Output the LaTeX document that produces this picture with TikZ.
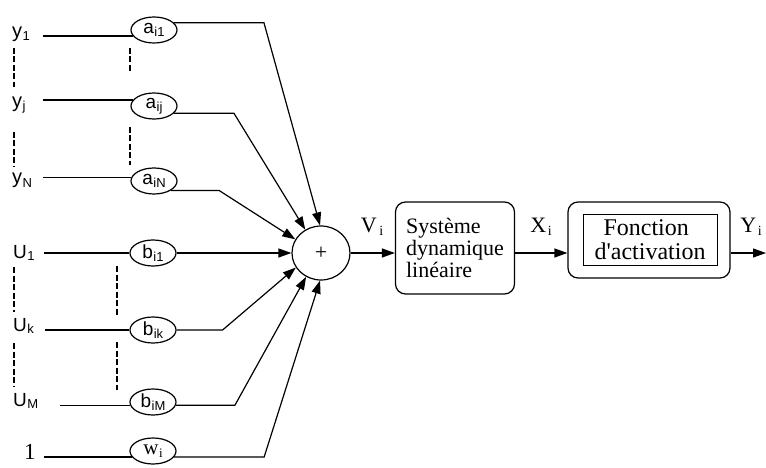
\documentclass[tikz,border=0pt]{standalone}
\usepackage{fontspec}
\setmainfont{Liberation Serif}
\newfontfamily\labsans{Liberation Sans}
\usetikzlibrary{arrows.meta,shapes.geometric}
% lowered index set in a smaller size
\newcommand\lo[2][13]{\kern0.5pt\raisebox{-0.15em}{\fontsize{#1}{#1}\selectfont #2}}

\begin{document}
\begin{tikzpicture}[x=1pt,y=-1pt,
  wire/.style={line width=1.2pt},
  arr/.style={wire,-{Triangle[length=13pt,width=9pt]}},
  guide/.style={line width=1.1pt,dash pattern=on 6pt off 2.5pt},
  weight/.style={ellipse,draw,line width=1.2pt,minimum width=46pt,minimum height=26pt,
    inner sep=0pt,font=\labsans\fontsize{19}{19}\selectfont},
  insig/.style={anchor=base west,inner sep=0pt,align=left,
    font=\labsans\fontsize{20}{20}\selectfont},
  usig/.style={insig,font=\labsans\fontsize{19}{19}\selectfont},
  sig/.style={inner sep=0pt,font=\fontsize{22}{22}\selectfont},
  block/.style={draw,line width=1.2pt,rounded corners=10pt},
]
\useasboundingbox (0,0) rectangle (766,468);

% input signals
\node[insig,text width=31pt] (y1) at (12,38) {y\lo{1}};
\node[insig,text width=31pt] (yj) at (12,108) {y\lo{j}};
\node[insig,text width=31pt] (yN) at (12,184) {y\lo{N}};
\node[usig,text width=31pt] (U1) at (13,258) {U\lo{1}};
\node[usig,text width=32pt] (Uk) at (13,331) {U\lo{k}};
\node[usig,text width=47pt] (UM) at (13,406) {U\lo{M}};
\node[insig,text width=20pt,font=\fontsize{23}{23}\selectfont] (one) at (24,459) {1};

% weights
\node[weight] (a1) at (154,30) {a\lo{i1}};
\node[weight] (aj) at (154,106) {a\lo{ij}};
\node[weight] (aN) at (154,181) {a\lo{iN}};
\node[weight] (b1) at (153,253) {b\lo{i1}};
\node[weight] (bk) at (153,330) {b\lo{ik}};
\node[weight] (bM) at (153,402) {b\lo{iM}};
\node[weight,font=\fontsize{21}{21}\selectfont] (w) at (153,451) {w\lo{i}};

% summing junction
\node[ellipse,draw,line width=1.2pt,minimum width=58pt,minimum height=54pt,inner sep=0pt,
  font=\fontsize{22}{22}\selectfont] (sum) at (321,253) {+};

% processing blocks
\node[block,minimum width=119pt,minimum height=92pt,align=left,inner sep=0pt,
  font=\fontsize{22}{21.7}\selectfont] (sys) at (455,248)
  {Système\\dynamique\\linéaire};
\node[block,minimum width=162pt,minimum height=76pt] (act) at (649,240) {};
\node[draw,line width=1pt,minimum width=134pt,minimum height=51pt,align=left,inner sep=0pt,
  font=\fontsize{24}{24}\selectfont] (actin) at (650,239.5)
  {\hspace*{9pt}Fonction\\d\textquotesingle activation};
\coordinate (out) at (766,253);

% signal names
\node[sig] (V) at (372,227) {V\kern2pt\lo[14]{i}};
\node[sig] (X) at (541,227) {X\kern1pt\lo[14]{i}};
\node[sig] (Y) at (751,227) {Y\kern1pt\lo[14]{i}};

% inputs into the weights
\draw[wire] (y1.east |- a1.196) -- (a1.196);
\draw[wire] (yj.east |- aj.164) -- (aj.164);
\draw[wire] (yN.east |- aN.172) -- (aN.172);
\draw[wire] (U1.east |- b1.west) -- (b1.west);
\draw[wire] (Uk.east |- bk.west) -- (bk.west);
\draw[wire] (UM.east |- bM.188) -- (bM.188);
\draw[wire] (one.east |- w.196) -- (w.196);

% weighted signals into the junction
\draw[arr] (a1.20) -- ++(90,0) -- (sum.92);
\draw[arr] (aj.340) -- ++(60,0) -- (sum.124);
\draw[arr] (aN.331) -- ++(48,0) -- (sum.152);
\draw[arr] (b1.east) -- (sum.180);
\draw[arr] (bk.east) -- ++(46,0) -- (sum.210);
\draw[arr] (bM.352) -- ++(59,0) -- (sum.238);
\draw[arr] (w.344) -- ++(90,0) -- (sum.268);

% forward chain
\draw[arr] (sum.east) -- (sum.east -| sys.west);
\draw[arr] (sum.east -| sys.east) -- (sum.east -| act.west);
\draw[arr] (sum.east -| act.east) -- (out);

% elided inputs
\draw[guide] (14,48) -- (14,87);
\draw[guide] (14,132) -- (14,167);
\draw[guide] (130,48) -- (130,72);
\draw[guide] (130,127) -- (130,165);
\draw[guide] (14,267) -- (14,312);
\draw[guide] (14,343) -- (14,387);
\draw[guide] (117,266) -- (117,316);
\draw[guide] (117,342) -- (117,390);
\end{tikzpicture}
\end{document}
